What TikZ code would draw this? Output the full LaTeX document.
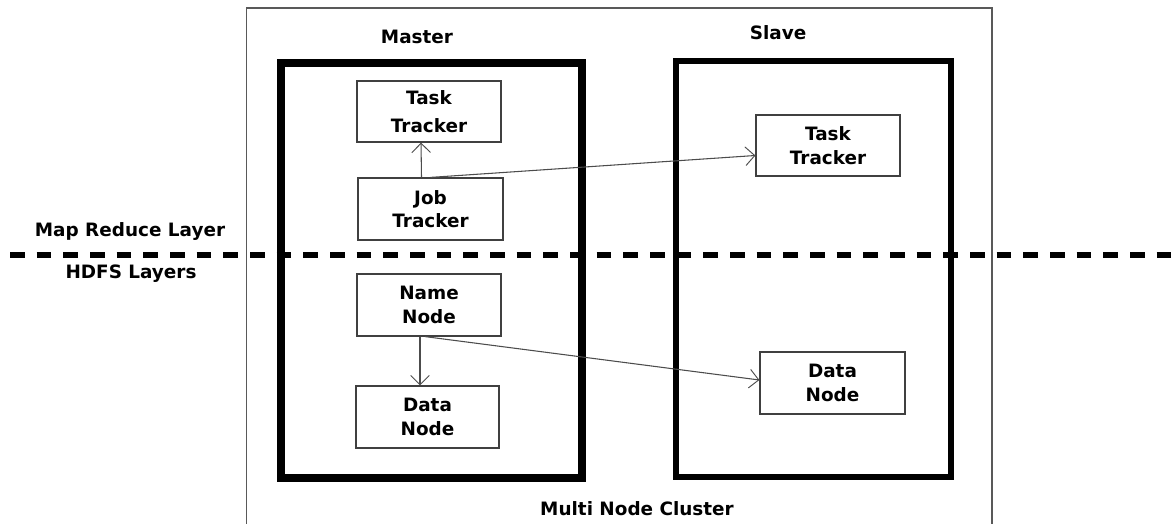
\documentclass[tikz,border=0pt]{standalone}
\usepackage{fontspec}
\setmainfont{DejaVu Sans}
\usetikzlibrary{arrows.meta}

\begin{document}
\begin{tikzpicture}[x=0.75pt, y=-0.75pt,
  every node/.style={font=\bfseries\fontsize{13.8}{17.5}\selectfont, text=black, inner sep=0pt},
  box/.style={draw=black!75, line width=0.9pt, align=center,
              minimum width=144*0.75pt, minimum height=62*0.75pt},
  link/.style={draw=black!70, line width=0.8pt,
               -{Straight Barb[length=7pt, width=14pt, line width=0.7pt]}},
  layerline/.style={line width=3.8pt, dash pattern=on 11pt off 9pt}
]
\useasboundingbox (0,0) rectangle (1171,524);

% cluster outline, open at the bottom
\coordinate (clbl) at (246.5,524);
\coordinate (cltl) at (246.5,8);
\coordinate (cltr) at (992,8);
\coordinate (clbr) at (992,524);
\draw[black!65, line width=1.2pt] (clbl) -- (cltl) -- (cltr) -- (clbr);

% master and slave machines
\node[draw=black, line width=6pt, minimum width=301*0.75pt, minimum height=415*0.75pt]
  (master) at (431.5,270.5) {};
\node[draw=black, line width=3.8pt, minimum width=275*0.75pt, minimum height=416*0.75pt]
  (slave) at (813.5,269) {};

% layer separator
\coordinate (sepL) at (10,255);
\coordinate (sepR) at (1171,255);
\draw[layerline] (sepL) -- (sepR);

% titles
\node (mastertitle) at (417,37) {Master};
\node (slavetitle) at (778,33) {Slave};
\node (mrlayer) at (130,231) {Map Reduce Layer};
\node (hdfslayer) at (131,274) {HDFS Layers};
\node (cluster) at (637,509) {Multi Node Cluster};

% daemons on the master
\node[box, minimum height=61*0.75pt, font=\bfseries\fontsize{13.8}{21}\selectfont]
  (mtt) at (429,111.5) {Task\\Tracker};
\node[box, minimum width=145*0.75pt] (jt) at (430.5,209) {Job\\Tracker};
\node[box] (nn) at (429,305) {Name\\Node};
\node[box, minimum width=143*0.75pt] (mdn) at (427.5,417) {Data\\Node};

% daemons on the slave
\node[box, minimum height=61*0.75pt] (stt) at (828,145.5) {Task\\Tracker};
\node[box, minimum width=145*0.75pt] (sdn) at (832.5,383) {Data\\Node};

% control links
\draw[link] ([xshift=-9*0.75pt]jt.north) -- ([xshift=-8*0.75pt]mtt.south);
\draw[link] (jt.north) -- ([yshift=-10*0.75pt]stt.west);
\draw[link] ([xshift=-9*0.75pt]nn.south) -- ([xshift=-7.5*0.75pt]mdn.north);
\draw[link] ([xshift=-4*0.75pt]nn.south) -- ([yshift=3*0.75pt]sdn.west);
\end{tikzpicture}
\end{document}
